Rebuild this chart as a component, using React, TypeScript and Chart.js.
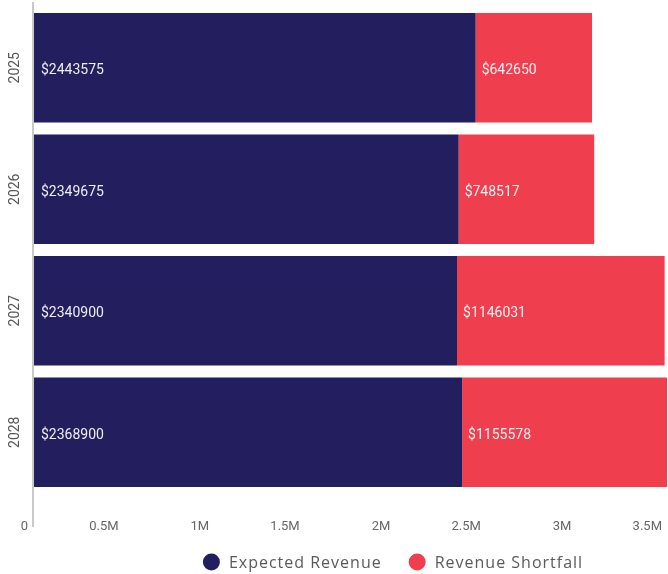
import React, { useEffect, useRef } from "react";
import { Chart, registerables } from "chart.js";

Chart.register(...registerables);

const categories = ["2025", "2026", "2027", "2028"];
const expectedRevenue = [2443575, 2349675, 2340900, 2368900];
const revenueShortfall = [642650, 748517, 1146031, 1155578];
const seriesNames = ["Expected Revenue", "Revenue Shortfall"];
const seriesColors = ["#231e5e", "#ef3f4f"];

const W = 668;
const H = 574;

const overlayPlugin = {
  id: "overlay",
  afterDatasetsDraw(chart: any) {
    const ctx = chart.ctx;
    const ys = chart.scales.y;
    const xs = chart.scales.x;
    ctx.save();
    // value labels
    ctx.font = "14px Roboto";
    ctx.fillStyle = "rgba(255,255,255,0.92)";
    ctx.textBaseline = "middle";
    ctx.textAlign = "left";
    chart.data.datasets.forEach((ds: any, di: number) => {
      const meta = chart.getDatasetMeta(di);
      meta.data.forEach((bar: any, i: number) => {
        const props = bar.getProps(["x", "y", "base"], true);
        const start = Math.min(props.x, props.base);
        ctx.fillText("$" + ds.data[i], start + (di === 0 ? 8 : 6), props.y + 3);
      });
    });
    // y category labels (rotated)
    ctx.font = "14px Roboto";
    ctx.fillStyle = "#555555";
    ctx.textAlign = "center";
    categories.forEach((c, i) => {
      const y = ys.getPixelForTick(i);
      ctx.save();
      ctx.translate(15, y);
      ctx.rotate(-Math.PI / 2);
      ctx.fillText(c, 0, 0);
      ctx.restore();
    });
    // axis line
    ctx.strokeStyle = "#c9c9c9";
    ctx.lineWidth = 2;
    ctx.beginPath();
    ctx.moveTo(xs.getPixelForValue(0), 2);
    ctx.lineTo(xs.getPixelForValue(0), 527);
    ctx.stroke();
    // legend
    ctx.font = "16px 'Open Sans'";
    (ctx as any).letterSpacing = "1px";
    const r = 8.5;
    const gapCT = 9;
    const gapItems = 27;
    const widths = seriesNames.map((n) => ctx.measureText(n).width);
    const total = widths.reduce((a, w) => a + 2 * r + gapCT + w, 0) + gapItems;
    let x = 393 - total / 2;
    const ly = 562;
    ctx.textAlign = "left";
    ctx.textBaseline = "middle";
    seriesNames.forEach((n, i) => {
      ctx.fillStyle = seriesColors[i];
      ctx.beginPath();
      ctx.arc(x + r, ly, r, 0, Math.PI * 2);
      ctx.fill();
      ctx.fillStyle = "#5a5a5a";
      ctx.fillText(n, x + 2 * r + gapCT, ly + 1);
      x += 2 * r + gapCT + widths[i] + gapItems;
    });
    ctx.restore();
  },
};

export default function App() {
  const ref = useRef<HTMLCanvasElement | null>(null);
  useEffect(() => {
    document.body.style.margin = "0";
    const chart = new Chart(ref.current as HTMLCanvasElement, {
      type: "bar",
      data: {
        labels: categories,
        datasets: [
          {
            label: seriesNames[0],
            data: expectedRevenue,
            backgroundColor: seriesColors[0],
            barPercentage: 0.9,
            categoryPercentage: 1,
          },
          {
            label: seriesNames[1],
            data: revenueShortfall,
            backgroundColor: seriesColors[1],
            barPercentage: 0.9,
            categoryPercentage: 1,
          },
        ],
      },
      options: {
        indexAxis: "y",
        animation: false,
        responsive: false,
        devicePixelRatio: 1,
        layout: { padding: { top: 7, right: 1, left: 0, bottom: 0 } },
        plugins: { legend: { display: false }, tooltip: { enabled: false } },
        scales: {
          x: {
            stacked: true,
            min: 0,
            max: 3500000,
            grid: { display: false },
            border: { display: false },
            afterFit: (s: any) => {
              s.height = 81;
              s.paddingLeft = 0;
              s.paddingRight = 0;
            },
            ticks: {
              stepSize: 500000,
              autoSkip: false,
              maxRotation: 0,
              align: "end",
              labelOffset: -5,
              padding: 18,
              color: "#666666",
              font: { family: "Roboto", size: 13 },
              callback: (v: any) => (v === 0 ? "0" : v / 1000000 + "M"),
            },
          },
          y: {
            stacked: true,
            grid: { display: false },
            border: { display: false },
            ticks: { display: false },
            afterFit: (s: any) => {
              s.width = 33;
              s.paddingTop = 0;
              s.paddingBottom = 0;
            },
          },
        },
      },
      plugins: [overlayPlugin],
    });
    return () => chart.destroy();
  }, []);
  return (
    <div style={{ position: "absolute", left: 0, top: 0, width: W, height: H }}>
      <canvas ref={ref} width={W} height={H} style={{ width: W, height: H }} />
    </div>
  );
}
